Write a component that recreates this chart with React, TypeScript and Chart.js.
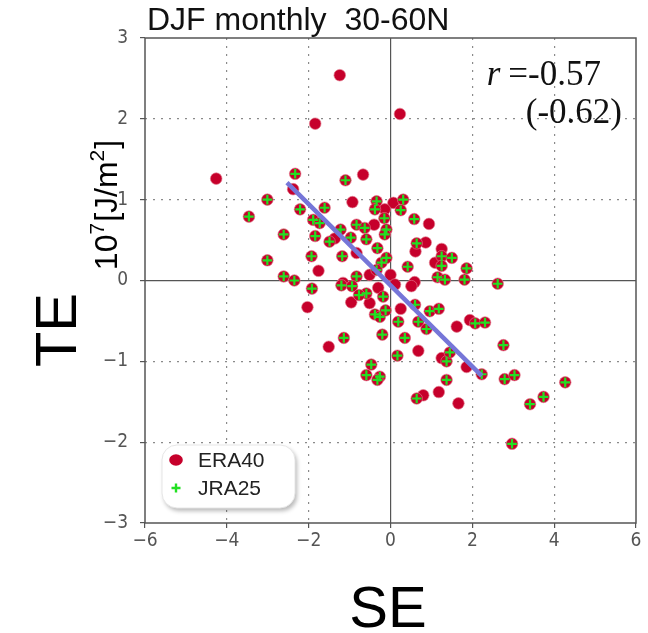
import React, { useEffect, useRef } from "react";
import { Chart, registerables } from "chart.js";

Chart.register(...registerables);

// ERA40 points (red circles): SE (x) and TE (y)
const era40SE = [
  -1.24, -1.84, 0.23, -4.26, -2.38, -0.67, -0.93, -1.36, -0.83, -1.76,
  -1.16, 0.07, -0.14, 0.94, -0.4, 0.86, 0.61, 1.25, 1.09, -0.51,
  0.0, 0.59, 0.11, 0.51, -0.3, -0.51, 0.25, 1.62, 1.94, 0.68,
  1.25, 1.86, 1.18, 0.8, 1.66, -2.03, -0.96, -1.51,
  -2.33, -1.1, -3.01, -3.46, -2.21, -1.61, -1.89, -1.73, -2.61, -1.84,
  -1.49, -1.22, -0.83, -0.97, -3.01, -1.93, -1.18, -2.61, -2.35, -0.83,
  -0.34, 0.31, 0.25, -0.38, -0.15, 0.58, -0.63, -0.59, -0.1, -0.14,
  0.64, -0.32, 1.25, 1.5, 1.25, 0.42, -0.22, -0.1, -0.34, 1.86,
  1.15, 1.33, 1.81, -0.59, -0.18, -0.38, -0.26, -0.12, 0.19, 0.6,
  0.96, 1.18, 0.68, 0.88, 2.07, -0.2, 0.35, 0.17, -0.47, -0.59,
  -0.26, 1.37, 1.45, 1.37, 0.64, 2.62, 2.31, 2.76, 2.23, 2.79,
  3.03, 4.27, 3.41, 3.74, 2.97, -1.92, -1.2, -0.94, -0.77, -1.14, -0.32,
];
const era40TE = [
  2.54, 1.94, 2.06, 1.26, 1.13, 1.31, 0.97, 0.52, 0.34, 0.12,
  -0.03, 0.96, 0.88, 0.7, 0.69, 0.47, 0.36, 0.39, 0.22, 0.07,
  0.07, -0.02, -0.05, -0.07, -0.09, -0.28, -0.35, -0.57, -0.49, -0.87,
  -0.96, -1.07, -1.38, -1.42, -1.52, -0.33, -0.27, -0.82,
  1.32, 1.24, 1.0, 0.79, 0.88, 0.9, 0.75, 0.71, 0.57, 0.55,
  0.48, 0.63, 0.69, 0.53, 0.25, 0.3, 0.3, 0.05, 0.0, 0.05,
  0.98, 1.0, 0.87, 0.88, 0.77, 0.76, 0.65, 0.51, 0.63, 0.57,
  0.46, 0.4, 0.3, 0.28, 0.18, 0.17, 0.22, 0.28, 0.13, 0.15,
  0.04, 0.01, 0.01, -0.16, -0.2, -0.42, -0.45, -0.37, -0.51, -0.3,
  -0.38, -0.35, -0.51, -0.6, -0.53, -0.67, -0.71, -0.93, -1.04, -1.17,
  -1.19, -1.0, -0.89, -1.23, -1.46, -0.04, -0.52, -0.8, -1.16, -1.22,
  -1.17, -1.26, -1.53, -1.44, -2.02, -0.1, -0.06, -0.07, -0.18, -0.71, -1.23,
];

// JRA25 points (green crosses)
const jra25SE = [
  -2.33, -1.1, -3.01, -3.46, -2.21, -1.61, -1.89, -1.73, -2.61, -1.84,
  -1.49, -1.22, -0.83, -0.97, -3.01, -1.93, -1.18, -2.61, -2.35, -0.83,
  -0.34, 0.31, 0.25, -0.38, -0.15, 0.58, -0.63, -0.59, -0.1, -0.14,
  0.64, -0.32, 1.25, 1.5, 1.25, 0.42, -0.22, -0.1, -0.34, 1.86,
  1.15, 1.33, 1.81, -0.59, -0.18, -0.38, -0.26, -0.12, 0.19, 0.6,
  0.96, 1.18, 0.68, 0.88, 2.07, -0.2, 0.35, 0.17, -0.47, -0.59,
  -0.26, 1.37, 1.45, 1.37, 0.64, 2.62, 2.31, 2.76, 2.23, 2.79,
  3.03, 4.27, 3.41, 3.74, 2.97, -1.92, -1.2, -0.94, -0.77, -1.14, -0.32,
];
const jra25TE = [
  1.32, 1.24, 1.0, 0.79, 0.88, 0.9, 0.75, 0.71, 0.57, 0.55,
  0.48, 0.63, 0.69, 0.53, 0.25, 0.3, 0.3, 0.05, 0.0, 0.05,
  0.98, 1.0, 0.87, 0.88, 0.77, 0.76, 0.65, 0.51, 0.63, 0.57,
  0.46, 0.4, 0.3, 0.28, 0.18, 0.17, 0.22, 0.28, 0.13, 0.15,
  0.04, 0.01, 0.01, -0.16, -0.2, -0.42, -0.45, -0.37, -0.51, -0.3,
  -0.38, -0.35, -0.51, -0.6, -0.53, -0.67, -0.71, -0.93, -1.04, -1.17,
  -1.19, -1.0, -0.89, -1.23, -1.46, -0.04, -0.52, -0.8, -1.16, -1.22,
  -1.17, -1.26, -1.53, -1.44, -2.02, -0.1, -0.06, -0.07, -0.18, -0.71, -1.23,
];

// regression line end points
const fitSE = [-2.53, 2.23];
const fitTE = [1.21, -1.18];

// axes
const xMin = -6;
const xMax = 6;
const xStep = 2;
const yMin = -3;
const yMax = 3;
const yStep = 1;

// texts
const titleText = "DJF monthly  30-60N";
const corrSymbol = "r";
const corrMain = "=-0.57";
const corrAlt = "(-0.62)";
const legendLabels = ["ERA40", "JRA25"];
const xTitle = "SE";
const yTitle = "TE";
const yUnitParts: [string, boolean][] = [
  ["10", false],
  ["7", true],
  ["[J/m", false],
  ["2", true],
  ["]", false],
];

const SANS = '"Liberation Sans", Arial, sans-serif';
const SERIF = '"Liberation Serif", "Times New Roman", serif';
const TICKFONT = '"DejaVu Sans Condensed", "DejaVu Sans", sans-serif';

const RED = "#c6002b";
const GREEN = "#22e022";

const fmt = (v: number) => (v < 0 ? "\u2212" + Math.abs(v) : String(v));

function roundRectPath(ctx: CanvasRenderingContext2D, x: number, y: number, w: number, h: number, r: number) {
  ctx.beginPath();
  ctx.moveTo(x + r, y);
  ctx.lineTo(x + w - r, y);
  ctx.arcTo(x + w, y, x + w, y + r, r);
  ctx.lineTo(x + w, y + h - r);
  ctx.arcTo(x + w, y + h, x + w - r, y + h, r);
  ctx.lineTo(x + r, y + h);
  ctx.arcTo(x, y + h, x, y + h - r, r);
  ctx.lineTo(x, y + r);
  ctx.arcTo(x, y, x + r, y, r);
  ctx.closePath();
}

const decorPlugin = {
  id: "decor",
  afterDraw(chart: any) {
    const ctx: CanvasRenderingContext2D = chart.ctx;
    const a = chart.chartArea;
    ctx.save();
    ctx.setLineDash([]);

    // frame
    ctx.strokeStyle = "#555";
    ctx.lineWidth = 1.5;
    ctx.strokeRect(a.left, a.top, a.right - a.left, a.bottom - a.top);

    // title
    ctx.fillStyle = "#111";
    ctx.textAlign = "left";
    ctx.textBaseline = "alphabetic";
    ctx.font = `32px ${SANS}`;
    ctx.fillText(titleText, a.left + 2, 30);

    // correlation text
    ctx.font = `35px ${SERIF}`;
    ctx.textAlign = "right";
    ctx.fillText(corrMain, 601, 85);
    const wMain = ctx.measureText(corrMain).width;
    ctx.font = `italic 35px ${SERIF}`;
    ctx.fillText(corrSymbol, 601 - wMain - 8, 85);
    ctx.font = `35px ${SERIF}`;
    ctx.fillText(corrAlt, 622, 123);

    // legend box
    const bx = 162, by = 445, bw = 133, bh = 63;
    ctx.save();
    ctx.shadowColor = "rgba(0,0,0,0.28)";
    ctx.shadowBlur = 4;
    ctx.shadowOffsetX = 2;
    ctx.shadowOffsetY = 3;
    roundRectPath(ctx, bx, by, bw, bh, 15);
    ctx.fillStyle = "#ffffff";
    ctx.fill();
    ctx.restore();
    roundRectPath(ctx, bx, by, bw, bh, 15);
    ctx.strokeStyle = "#e6e6e6";
    ctx.lineWidth = 1;
    ctx.stroke();

    ctx.fillStyle = RED;
    ctx.beginPath();
    ctx.ellipse(176, 460, 6.8, 5.8, 0, 0, Math.PI * 2);
    ctx.fill();
    ctx.strokeStyle = GREEN;
    ctx.lineWidth = 2.4;
    ctx.beginPath();
    ctx.moveTo(171.5, 488);
    ctx.lineTo(180.5, 488);
    ctx.moveTo(176, 483.5);
    ctx.lineTo(176, 492.5);
    ctx.stroke();

    ctx.fillStyle = "#222";
    ctx.textAlign = "left";
    ctx.font = `21px ${SANS}`;
    ctx.fillText(legendLabels[0], 198, 467);
    ctx.fillText(legendLabels[1], 198, 495);

    // x title
    ctx.fillStyle = "#000";
    ctx.textAlign = "center";
    ctx.font = `58px ${SANS}`;
    ctx.fillText(xTitle, 388, 627);

    // y title (rotated)
    ctx.save();
    ctx.translate(55, 330);
    ctx.rotate(-Math.PI / 2);
    ctx.textAlign = "center";
    ctx.font = `58px ${SANS}`;
    ctx.fillText(yTitle, 0, 21);
    ctx.restore();

    // unit label (rotated, with superscripts)
    ctx.save();
    ctx.translate(106, 205);
    ctx.rotate(-Math.PI / 2);
    ctx.textAlign = "left";
    const size = 32;
    const fN = `${size}px ${SANS}`;
    const fS = `${Math.round(size * 0.66)}px ${SANS}`;
    let total = 0;
    for (const [t, sup] of yUnitParts) {
      ctx.font = sup ? fS : fN;
      total += ctx.measureText(t).width + (sup ? 1 : 0);
    }
    let x = -total / 2;
    for (const [t, sup] of yUnitParts) {
      ctx.font = sup ? fS : fN;
      ctx.fillText(t, x, sup ? -2 : 11);
      x += ctx.measureText(t).width + (sup ? 1 : 0);
    }
    ctx.restore();

    ctx.restore();
  },
};

const gridColor = (v: number | undefined, lo: number, hi: number) => {
  if (v === undefined) return "#888";
  if (v === 0) return "#555";
  if (v === lo || v === hi) return "rgba(0,0,0,0)";
  return "#8a8a8a";
};

export default function App() {
  const ref = useRef<HTMLCanvasElement | null>(null);

  useEffect(() => {
    document.body.style.margin = "0";
    const canvas = ref.current;
    if (!canvas) return;

    const chart = new Chart(canvas, {
      type: "scatter",
      data: {
        datasets: [
          {
            label: "fit",
            data: fitSE.map((x, i) => ({ x, y: fitTE[i] })),
            showLine: true,
            borderColor: "#7676d8",
            borderWidth: 4.5,
            pointRadius: 0,
            order: 0,
          } as any,
          {
            label: legendLabels[1],
            data: jra25SE.map((x, i) => ({ x, y: jra25TE[i] })),
            pointStyle: "cross",
            pointRadius: 4.8,
            borderColor: GREEN,
            borderWidth: 2.2,
            order: 1,
          },
          {
            label: legendLabels[0],
            data: era40SE.map((x, i) => ({ x, y: era40TE[i] })),
            pointStyle: "circle",
            pointRadius: 5.8,
            backgroundColor: RED,
            borderColor: "rgba(226,120,140,0.65)",
            borderWidth: 1,
            order: 2,
          },
        ],
      },
      options: {
        responsive: false,
        animation: false,
        devicePixelRatio: 1,
        layout: { padding: { left: 0, top: 38, right: 12, bottom: 0 } },
        plugins: {
          legend: { display: false },
          tooltip: { enabled: false },
        },
        scales: {
          x: {
            type: "linear",
            min: xMin,
            max: xMax,
            afterFit: (s: any) => {
              s.height = 110;
            },
            ticks: {
              stepSize: xStep,
              padding: 2,
              color: "#555",
              font: { family: TICKFONT, size: 19 },
              maxRotation: 0,
              autoSkip: false,
              callback: (v: any) => fmt(Number(v)),
            },
            grid: {
              color: (c: any) => gridColor(c.tick?.value, xMin, xMax),
              lineWidth: 1.2,
              drawTicks: true,
              tickLength: 5,
              tickColor: "#555",
              tickWidth: 1.2,
            },
            border: {
              display: false,
              dash: (c: any) => (c.tick && c.tick.value !== 0 ? [2, 6] : []),
            },
          },
          y: {
            type: "linear",
            min: yMin,
            max: yMax,
            afterFit: (s: any) => {
              s.width = 145;
            },
            ticks: {
              stepSize: yStep,
              padding: 12,
              color: "#555",
              font: { family: TICKFONT, size: 19 },
              autoSkip: false,
              callback: (v: any) => fmt(Number(v)),
            },
            grid: {
              color: (c: any) => gridColor(c.tick?.value, yMin, yMax),
              lineWidth: 1.2,
              drawTicks: true,
              tickLength: 5,
              tickColor: "#555",
              tickWidth: 1.2,
            },
            border: {
              display: false,
              dash: (c: any) => (c.tick && c.tick.value !== 0 ? [2, 6] : []),
            },
          },
        },
      },
      plugins: [decorPlugin],
    } as any);

    return () => chart.destroy();
  }, []);

  return <canvas ref={ref} width={648} height={633} style={{ display: "block" }} />;
}
